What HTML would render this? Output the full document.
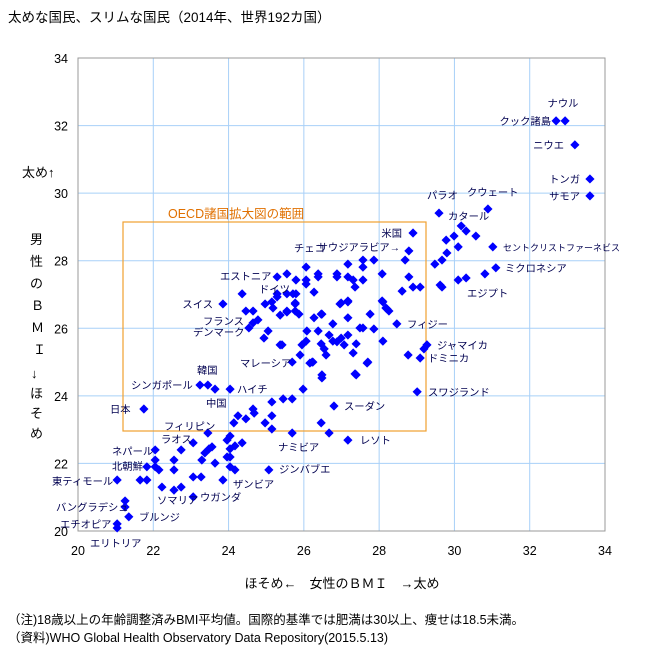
<!DOCTYPE html>
<html><head><meta charset="utf-8"><style>
body{margin:0;background:#fff;}
svg text{font-family:"Liberation Sans","Noto Sans CJK JP",sans-serif;}
.lb{font-size:10.3px;fill:#000050;}
</style></head><body>
<svg id="chart" width="646" height="655" xmlns="http://www.w3.org/2000/svg">
<text x="8" y="22" font-size="13.5" fill="#000">太めな国民、スリムな国民（2014年、世界192カ国）</text>
<g id="grid"></g>
<rect x="78" y="58" width="527" height="473" fill="none" stroke="#999" stroke-width="1"/>
<g id="axes"></g>
<rect x="123" y="222" width="303" height="209" fill="none" stroke="#f0a030" stroke-width="1.2"/>
<text x="168" y="218" font-size="12.5" fill="#e07000">OECD諸国拡大図の範囲</text>
<g id="pts"></g>
<g class="lb">
<text class="lb" x="563" y="107" text-anchor="middle">ナウル</text>
<text class="lb" x="551" y="125" text-anchor="end">クック諸島</text>
<text class="lb" x="564" y="149" text-anchor="end">ニウエ</text>
<text class="lb" x="580" y="183" text-anchor="end">トンガ</text>
<text class="lb" x="580" y="200" text-anchor="end">サモア</text>
<text class="lb" x="467" y="196">クウェート</text>
<text class="lb" x="427" y="199">パラオ</text>
<text class="lb" x="448" y="220">カタール</text>
<text class="lb" x="402" y="237" text-anchor="end">米国</text>
<text class="lb" x="400" y="251" text-anchor="end">サウジアラビア→</text>
<text class="lb" x="294" y="252">チェコ</text>
<text class="lb" x="503" y="251" style="font-size:9px">セントクリストファーネビス</text>
<text class="lb" x="505" y="272">ミクロネシア</text>
<text class="lb" x="467" y="297">エジプト</text>
<text class="lb" x="220" y="280">エストニア</text>
<text class="lb" x="259" y="293">ドイツ</text>
<text class="lb" x="213" y="308" text-anchor="end">スイス</text>
<text class="lb" x="203" y="325">フランス</text>
<text class="lb" x="193" y="336">デンマーク</text>
<text class="lb" x="407" y="328">フィジー</text>
<text class="lb" x="437" y="349">ジャマイカ</text>
<text class="lb" x="428" y="362">ドミニカ</text>
<text class="lb" x="240" y="367">マレーシア</text>
<text class="lb" x="197" y="374">韓国</text>
<text class="lb" x="131" y="389">シンガポール</text>
<text class="lb" x="237" y="393">ハイチ</text>
<text class="lb" x="206" y="407">中国</text>
<text class="lb" x="428" y="396">スワジランド</text>
<text class="lb" x="110" y="413">日本</text>
<text class="lb" x="344" y="410">スーダン</text>
<text class="lb" x="164" y="430">フィリピン</text>
<text class="lb" x="161" y="443">ラオス</text>
<text class="lb" x="278" y="451">ナミビア</text>
<text class="lb" x="360" y="444">レソト</text>
<text class="lb" x="112" y="455">ネパール</text>
<text class="lb" x="112" y="470">北朝鮮</text>
<text class="lb" x="279" y="473">ジンバブエ</text>
<text class="lb" x="52" y="485">東ティモール</text>
<text class="lb" x="233" y="488">ザンビア</text>
<text class="lb" x="157" y="504">ソマリア</text>
<text class="lb" x="200" y="501">ウガンダ</text>
<text class="lb" x="56" y="511">バングラデシュ</text>
<text class="lb" x="139" y="521">ブルンジ</text>
<text class="lb" x="60" y="528">エチオピア</text>
<text class="lb" x="90" y="547">エリトリア</text>
</g>
<g font-size="13" fill="#000">
<text x="22" y="177">太め↑</text>
<text x="30" y="244">男</text><text x="30" y="266">性</text><text x="30" y="288">の</text>
<text x="31" y="310">Ｂ</text><text x="31" y="332">Ｍ</text><text x="33" y="354">Ｉ</text>
<text x="31" y="378">↓</text><text x="30" y="398">ほ</text><text x="30" y="418">そ</text><text x="30" y="438">め</text>
</g>
<text x="342" y="588" font-size="13" text-anchor="middle" fill="#000">ほそめ←　女性のＢＭＩ　→太め</text>
<text x="8" y="624" font-size="12.5" fill="#000">（注)18歳以上の年齢調整済みBMI平均値。国際的基準では肥満は30以上、痩せは18.5未満。</text>
<text x="8" y="642" font-size="12.5" fill="#000">（資料)WHO Global Health Observatory Data Repository(2015.5.13)</text>
</svg>
<script>
const xTicks=[20,22,24,26,28,30,32,34];
const yTicks=[20,22,24,26,28,30,32,34];
const femaleBMI=[32.7,32.94,33.2,33.6,33.6,30.89,29.59,30.18,30.31,29.99,30.57,29.78,30.1,31.02,29.8,29.67,29.48,31.1,30.81,30.31,30.1,29.62,29.67,28.9,28.79,28.69,28.79,28.9,29.09,28.61,
25.71,26.27,26.99,27.17,28.1,28.21,25.55,25.77,25.87,26.27,26.48,27.17,27.76,26.77,27.49,27.57,27.86,28.47,26.08,26.38,26.67,26.99,27.17,26.77,26.88,28.1,25.42,25.95,26.46,27.07,27.39,29.27,26.54,27.31,29.19,28.77,29.09,25.9,26.59,25.69,26.22,26.24,27.7,26.48,26.48,27.39,25.98,29.01,25.45,25.69,26.8,26.46,26.67,25.69,27.17,
27.57,27.86,27.17,27.57,26.06,28.08,26.38,26.88,27.17,27.31,27.57,25.29,25.55,25.79,26.06,26.06,26.38,26.88,27.36,24.36,25.29,25.55,25.79,23.85,24.97,25.15,25.29,25.77,26.96,27.17,28.08,28.18,28.26,24.46,24.65,25.18,25.37,25.55,25.77,26.46,24.78,24.65,24.54,25.05,24.94,25.37,26.06,26.16,27.36,27.68,
23.24,23.45,23.64,24.04,21.75,25.15,24.65,24.25,24.46,24.68,25.15,24.14,24.97,25.15,23.45,24.04,23.96,23.06,24.36,24.17,23.56,23.48,22.74,22.05,23.37,24.04,24.04,23.96,23.29,22.05,22.55,23.64,21.83,22.05,22.15,22.55,24.04,24.17,25.07,21.04,21.65,21.83,23.06,23.27,23.85,22.23,22.55,22.74,23.06,21.25,21.25,21.35,21.04,21.04];
const maleBMI=[32.14,32.14,31.43,30.42,29.92,29.53,29.41,29.03,28.88,28.73,28.73,28.61,28.41,28.41,28.23,28.02,27.9,27.79,27.61,27.49,27.43,27.28,27.22,28.82,28.29,28.02,27.52,27.22,27.22,27.1,
27.02,27.07,26.75,26.78,26.78,26.57,26.48,26.72,26.42,26.31,26.42,26.31,26.42,26.13,26.01,26.01,25.98,26.13,25.92,25.92,25.8,25.71,25.8,25.62,25.6,25.62,25.51,25.51,25.54,25.51,25.54,25.51,25.39,25.27,25.39,25.21,25.12,25.21,25.21,25.0,25.0,25.0,25.0,24.62,24.53,24.62,24.2,24.12,23.91,23.91,23.7,23.2,22.9,22.9,22.69,
28.02,28.02,27.9,27.81,27.81,27.61,27.61,27.61,27.52,27.43,27.43,27.52,27.61,27.43,27.43,27.31,27.52,27.52,27.22,27.02,27.02,27.02,27.02,26.72,26.72,26.78,26.93,26.75,26.72,26.81,26.81,26.6,26.51,26.51,26.51,26.6,26.39,26.51,26.51,26.42,26.25,26.16,26.01,25.92,25.71,25.51,25.62,24.97,24.65,24.97,
24.32,24.32,24.2,24.2,23.61,23.82,23.61,23.41,23.32,23.49,23.41,23.2,23.2,23.02,22.9,22.81,22.69,22.61,22.61,22.52,22.49,22.43,22.4,22.4,22.31,22.43,22.19,22.19,22.1,22.1,22.1,22.01,21.9,21.9,21.81,21.81,21.9,21.81,21.81,21.51,21.51,21.51,21.6,21.6,21.51,21.3,21.21,21.3,21.01,20.89,20.71,20.42,20.21,20.09];
const NS='http://www.w3.org/2000/svg';
const X0=78,X1=605,Y0=531,Y1=58;
function sx(v){return X0+(v-20)/14*(X1-X0);}
function sy(v){return Y0-(v-20)/14*(Y0-Y1);}
const grid=document.getElementById('grid'),axes=document.getElementById('axes'),pts=document.getElementById('pts');
xTicks.forEach(t=>{
 if(t>20&&t<34){const l=document.createElementNS(NS,'line');
 
 
 l.setAttribute('x1',sx(t));l.setAttribute('x2',sx(t));l.setAttribute('y1',Y1);l.setAttribute('y2',Y0);l.setAttribute('stroke','#a8d0f8');grid.appendChild(l);}
 const tx=document.createElementNS(NS,'text');
 
 
 tx.setAttribute('x',sx(t));tx.setAttribute('y',Y0+24);tx.setAttribute('text-anchor','middle');tx.setAttribute('font-size','12.5');tx.textContent=t;axes.appendChild(tx);
});
yTicks.forEach(t=>{
 if(t>20&&t<34){const l=document.createElementNS(NS,'line');
 
 
 l.setAttribute('x1',X0);l.setAttribute('x2',X1);l.setAttribute('y1',sy(t));l.setAttribute('y2',sy(t));l.setAttribute('stroke','#a8d0f8');grid.appendChild(l);}
 const tx=document.createElementNS(NS,'text');
 
 
 tx.setAttribute('x',X0-10);tx.setAttribute('y',sy(t)+5);tx.setAttribute('text-anchor','end');tx.setAttribute('font-size','12.5');tx.textContent=t;axes.appendChild(tx);
});
const n=Math.min(femaleBMI.length,maleBMI.length);
for(let i=0;i<n;i++){
 const cx=sx(femaleBMI[i]),cy=sy(maleBMI[i]),r=4.6;
 const p=document.createElementNS(NS,'polygon');
 
 
 p.setAttribute('points',`${cx},${cy-r} ${cx+r},${cy} ${cx},${cy+r} ${cx-r},${cy}`);
 p.setAttribute('fill','#0000ff');pts.appendChild(p);
}
</script>
</body></html>
